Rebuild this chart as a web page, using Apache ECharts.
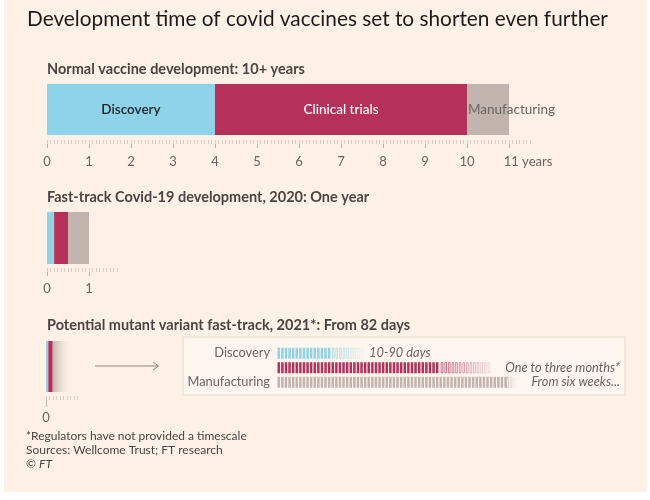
<!DOCTYPE html>
<html>
<head>
<meta charset="utf-8">
<script src="https://cdn.jsdelivr.net/npm/echarts@6/dist/echarts.min.js"></script>
<style>
  html, body { margin: 0; background: #fff; }
  #chart { width: 650px; height: 500px; }
</style>
</head>
<body>
<div id="chart"></div>
<script>
; (function () {
  // stage names and colours shared by all three panels
  const stages = ['Discovery', 'Clinical trials', 'Manufacturing']
  const stageColors = ['#8fd3e8', '#b5315a', '#c2b5ad']

  // durations in years
  const normalYears = [4, 6, 1]
  const fastTrackYears = [0.17, 0.33, 0.5]
  const mutantYears = [0.055, 0.105, 0.48]

  // tick labels
  const normalTickMax = 11
  const fastTickMax = 1

  // mutant fast-track detail, in days
  const variantRows = ['Discovery', 'Trials', 'Manufacturing']
  const variantMinDays = [10, 30, 42]
  const variantFadeDays = [16, 39.5, 44.2]
  const variantNotes = ['10-90 days', 'One to three months*', 'From six weeks...']

  const font = 'Lato'
  const tickGrey = '#bdb2a9'
  const minorGrey = '#d9cec5'
  const labelGrey = '#6b6460'

  const myChart = echarts.init(document.getElementById('chart'))

  const hiddenY = (i) => ({ type: 'category', gridIndex: i, data: [''], show: false })

  function majorAxis (grid, max, offset, margin, tickLen, extra) {
    return Object.assign({
      type: 'value', gridIndex: grid, min: 0, max: max, interval: 1, position: 'bottom', offset: offset,
      axisLine: { show: false }, splitLine: { show: false },
      axisTick: { show: true, length: tickLen, lineStyle: { color: tickGrey } },
      axisLabel: { margin: margin, color: labelGrey, fontSize: 13, fontFamily: font }
    }, extra || {})
  }
  function minorAxis (grid, months, offset) {
    return {
      type: 'value', gridIndex: grid, min: 0, max: months, interval: 1, position: 'bottom', offset: offset,
      axisLine: { show: false }, splitLine: { show: false },
      axisTick: { show: true, length: 4, lineStyle: { color: minorGrey } },
      axisLabel: { show: false }
    }
  }

  function stackSeries (values, axisIdx, stack, withLabels) {
    return values.map((v, i) => ({
      name: stages[i], type: 'bar', stack: stack, xAxisIndex: axisIdx, yAxisIndex: axisIdx,
      barWidth: '100%', silent: true,
      itemStyle: { color: stageColors[i] },
      label: withLabels ? withLabels[i] : { show: false },
      data: [v]
    }))
  }

  const normalLabels = [
    { show: true, position: 'inside', color: '#22262b', fontSize: 13.5, fontWeight: 600, fontFamily: font, formatter: '{a}' },
    { show: true, position: 'inside', color: '#fff', fontSize: 13.5, fontWeight: 500, fontFamily: font, formatter: '{a}' },
    { show: true, position: 'insideLeft', distance: 1, color: labelGrey, fontSize: 13.5, fontFamily: font, formatter: '{a}' }
  ]

  const mutantSeries = stackSeries(mutantYears, 4, 'mutant')
  mutantSeries[2].itemStyle.color = {
    type: 'linear', x: 0, y: 0, x2: 1, y2: 0,
    colorStops: [{ offset: 0, color: '#c2b5ad' }, { offset: 1, color: 'rgba(255,241,229,0)' }]
  }

  // detail items: [startDay, endDay, row, faded]
  const detailData = []
  variantRows.forEach((r, i) => {
    detailData.push([0, variantMinDays[i], i, 0])
    detailData.push([variantMinDays[i], variantFadeDays[i], i, 1])
  })

  const heading = { fontFamily: font, fontSize: 14.5, fontWeight: 'bold', color: '#4a4542' }

  const option = {
    backgroundColor: '#fff',
    animation: false,
    title: [
      { text: 'Development time of covid vaccines set to shorten even further', left: 27, top: 9, padding: 0,
        textStyle: { fontFamily: font, fontSize: 20.8, fontWeight: 'normal', color: '#1d1b1a' } },
      { text: 'Normal vaccine development: 10+ years', left: 47, top: 62, padding: 0, textStyle: heading },
      { text: 'Fast-track Covid-19 development, 2020: One year', left: 47, top: 190, padding: 0, textStyle: heading },
      { text: 'Potential mutant variant fast-track, 2021*: From 82 days', left: 47, top: 318, padding: 0, textStyle: heading },
      { text: '*Regulators have not provided a timescale\nSources: Wellcome Trust; FT research\n© {i|FT}', left: 26, top: 429, padding: 0,
        textStyle: { fontFamily: font, fontSize: 12, fontWeight: 'normal', lineHeight: 14, color: '#4a4542',
          rich: { i: { fontFamily: font, fontSize: 12, fontStyle: 'italic', color: '#4a4542' } } } }
    ],
    graphic: [
      { type: 'rect', silent: true, z: -10, shape: { x: 4, y: 0, width: 643, height: 492 }, style: { fill: '#fff1e5' } },
      { type: 'rect', silent: true, z: -9, shape: { x: 183, y: 337, width: 442, height: 58 },
        style: { fill: '#fff6ef', stroke: '#e4d9cf', lineWidth: 1 } },
      { type: 'line', silent: true, shape: { x1: 95, y1: 366, x2: 158, y2: 366 }, style: { stroke: '#8a837d', lineWidth: 1 } },
      { type: 'polyline', silent: true, shape: { points: [[153, 362], [158.5, 366], [153, 370]] },
        style: { stroke: '#8a837d', lineWidth: 1, fill: 'none' } }
    ],
    grid: [
      { left: 47, top: 84, width: 462, height: 51 },
      { left: 47, top: 84, width: 483, height: 51 },
      { left: 47, top: 212, width: 42, height: 52 },
      { left: 47, top: 212, width: 70, height: 52 },
      { left: 46, top: 341, width: 42, height: 51 },
      { left: 46, top: 341, width: 31.5, height: 51 },
      { left: 277, top: 346, width: 343, height: 43.5 }
    ],
    xAxis: [
      majorAxis(0, normalTickMax, 5, 15, 8, {
        axisLabel: {
          margin: 15, color: labelGrey, fontSize: 13, fontFamily: font,
          formatter: (v) => v === normalTickMax ? '{y|' + v + ' years}' : v,
          rich: { y: { color: labelGrey, fontSize: 13, fontFamily: font, padding: [0, 0, 0, 38] } }
        }
      }),
      minorAxis(1, 138, 5),
      majorAxis(2, fastTickMax, 4, 14.5, 8),
      minorAxis(3, 20, 4),
      majorAxis(4, 1, 4, 15.5, 11, {
        axisTick: { show: true, length: 11, lineStyle: { color: tickGrey }, customValues: [0] },
        axisLabel: { margin: 15.5, color: labelGrey, fontSize: 13, fontFamily: font, customValues: [0] }
      }),
      minorAxis(5, 9, 4),
      { type: 'value', gridIndex: 6, min: 0, max: 63, show: false }
    ],
    yAxis: [
      hiddenY(0), hiddenY(1), hiddenY(2), hiddenY(3), hiddenY(4), hiddenY(5),
      { type: 'category', gridIndex: 6, data: variantRows, inverse: true,
        axisLine: { show: false }, axisTick: { show: false },
        axisLabel: { margin: 7, color: labelGrey, fontSize: 12.8, fontFamily: font } }
    ],
    series: [].concat(
      stackSeries(normalYears, 0, 'normal', normalLabels),
      stackSeries(fastTrackYears, 2, 'fast'),
      mutantSeries,
      [{
        type: 'custom', xAxisIndex: 6, yAxisIndex: 6, silent: true,
        data: detailData,
        renderItem: function (params, api) {
          const row = api.value(2)
          const faded = api.value(3) === 1
          const a = api.coord([api.value(0), row])
          const b = api.coord([api.value(1), row])
          const h = api.size([0, 1])[1] * 0.76
          const pitch = 3.6
          const w = 2.5
          const n = Math.round((b[0] - a[0]) / pitch)
          const color = stageColors[row]
          const children = []
          for (let k = 0; k < n; k++) {
            const shape = { x: a[0] + k * pitch + 0.5, y: a[1] - h / 2, width: w, height: h }
            if (!faded) {
              children.push({ type: 'rect', shape: shape, style: { fill: color } })
            } else {
              const op = 0.9 - 0.75 * k / Math.max(n - 1, 1)
              children.push({ type: 'rect', shape: { x: shape.x + 0.4, y: shape.y + 0.4, width: w - 0.8, height: h - 0.8 },
                style: { fill: 'none', stroke: color, lineWidth: 0.8, opacity: op } })
            }
          }
          if (faded) {
            const cs = params.coordSys
            const left = row === 0
            children.push({
              type: 'text',
              style: {
                text: variantNotes[row], x: left ? b[0] + 5 : cs.x + cs.width, y: a[1],
                align: left ? 'left' : 'right', verticalAlign: 'middle',
                fontFamily: font, fontSize: 12.8, fontStyle: 'italic', fill: labelGrey
              }
            })
          }
          return { type: 'group', children: children }
        }
      }]
    )
  }

  myChart.setOption(option)
  window.addEventListener('resize', function () {
    myChart.resize()
  })
})()
</script>
</body>
</html>
